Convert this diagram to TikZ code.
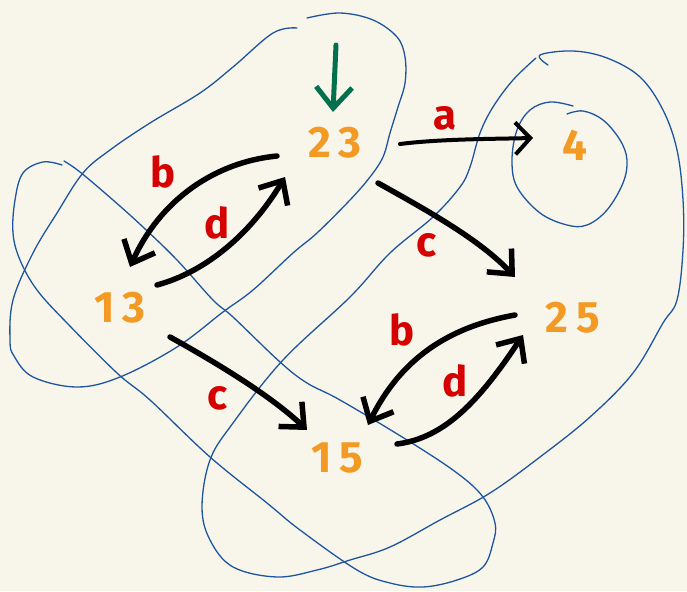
\documentclass[tikz,border=0pt]{standalone}
\usepackage{fontspec}
\setsansfont{Fira Sans}
\usetikzlibrary{arrows.meta,calc}
\definecolor{bg}{HTML}{F8F6EB}
\definecolor{stateor}{HTML}{F39A24}
\definecolor{labred}{HTML}{D50000}
\definecolor{blobblue}{HTML}{1F55A0}
\definecolor{startgreen}{HTML}{00704F}
\begin{document}
\begin{tikzpicture}[x=1pt,y=-1pt,
 state/.style={text=stateor, font=\sffamily\bfseries\fontsize{44}{46}\selectfont\addfontfeatures{LetterSpace=18}, inner sep=0pt},
 lab/.style={text=labred, font=\sffamily\bfseries\fontsize{42}{44}\selectfont, inner sep=0pt},
 trans/.style={line width=5.5pt, line cap=round, line join=round, -{Straight Barb[length=19pt,width=34pt]}},
 thintrans/.style={line width=4pt, line cap=round, line join=round, -{Straight Barb[length=15pt,width=32pt]}},
 startarrow/.style={startgreen, line width=5pt, line cap=round, line join=round, -{Straight Barb[length=21pt,width=36pt]}},
 blob/.style={blobblue, line width=1.3pt, line cap=round, line join=round},
]
\fill[bg] (0,0) rectangle (687,591);
\useasboundingbox (0,0) rectangle (687,591);

% blue sets
\draw[blob] plot[smooth, tension=0.6] coordinates {(297,28) (273,33) (233,67) (200,93) (150,123) (110,150) (83,173) (57,213) (33,253) (13,300) (10,340) (14,356) (33,377) (77,387) (120,377) (177,347) (223,312) (253,290) (293,253) (317,233) (350,200) (370,177) (383,157) (390,133) (398,107) (405,83) (405,57) (397,37) (373,20) (340,13) (307,18)};
\draw[blob] plot[smooth, tension=0.6] coordinates {(64,161) (80,172) (113,200) (143,227) (177,260) (213,300) (233,317) (280,362) (307,383) (340,400) (407,440) (457,473) (483,497) (495,523) (493,543) (483,567) (457,580) (423,587) (390,583) (357,570) (300,530) (267,503) (210,457) (150,400) (117,373) (67,323) (37,290) (20,260) (13,233) (15,200) (23,173) (43,162) (62,165)};
\draw[blob] plot[smooth, tension=0.6] coordinates {(548,65) (540,55) (573,51) (607,58) (640,77) (663,110) (677,150) (683,200) (683,250) (677,300) (663,323) (633,373) (590,417) (540,457) (490,493) (440,520) (390,547) (350,560) (317,570) (277,577) (233,567) (210,540) (202,507) (210,460) (233,423) (283,360) (350,297) (390,253) (433,217) (460,187) (470,167) (480,133) (493,107) (513,80) (536,58)};
\draw[blob] plot[smooth, tension=0.6] coordinates {(573,106) (550,102) (530,110) (517,130) (512,160) (517,187) (540,213) (567,225) (587,225) (607,210) (623,183) (627,160) (620,140) (603,120) (583,111) (567,114)};

% states
\node[state] (n23) at (335,143) {23};
\node[state] (n4)  at (575,145) {4};
\node[state] (n13) at (120,308) {13};
\node[state] (n25) at (573,318) {25};
\node[state] (n15) at (337,458) {15};

% start arrow
\coordinate (startpt) at (336,45);
\draw[startarrow] (startpt) -- ($(n23)+(-2,-31)$);

% transitions
\draw[trans] ($(n23)+(-58,13)$) .. controls (215,162) and (160,200) .. ($(n13)+(10,-41)$);
\draw[trans] ($(n13)+(37,-23)$) .. controls (205,272) and (250,235) .. ($(n23)+(-50,34)$);
\draw[thintrans] ($(n23)+(65,1)$) .. controls (440,139) and (490,139) .. ($(n4)+(-42,-7)$);
\draw[trans] ($(n23)+(43,40)$) .. controls (430,212) and (480,240) .. ($(n25)+(-58,-41)$);
\draw[trans] ($(n13)+(50,29)$) .. controls (215,362) and (270,395) .. ($(n15)+(-30,-28)$);
\draw[trans] ($(n25)+(-58,-3)$) .. controls (460,325) and (405,350) .. ($(n15)+(31,-33)$);
\draw[trans] ($(n15)+(60,-14)$) .. controls (445,438) and (480,400) .. ($(n25)+(-50,17)$);

% labels
\node[lab] (lb1) at (163,172) {b};
\node[lab] (ld1) at (217,223) {d};
\node[lab] (la)  at (445,118) {a};
\node[lab] (lc1) at (427,245) {c};
\node[lab] (lc2) at (218,398) {c};
\node[lab] (lb2) at (402,330) {b};
\node[lab] (ld2) at (455,381) {d};
\end{tikzpicture}
\end{document}
